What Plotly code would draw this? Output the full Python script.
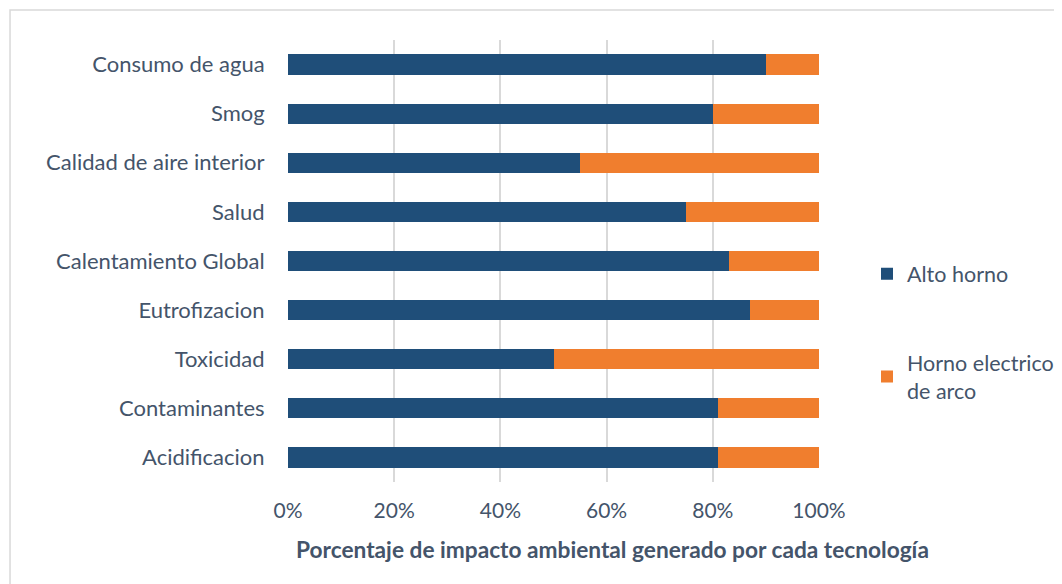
import plotly.graph_objects as go

categories = ["Consumo de agua", "Smog", "Calidad de aire interior", "Salud",
              "Calentamiento Global", "Eutrofizacion", "Toxicidad",
              "Contaminantes", "Acidificacion"]
alto_horno = [90, 80, 55, 75, 83, 87, 50, 81, 81]
horno_electrico = [10, 20, 45, 25, 17, 13, 50, 19, 19]
tick_vals = [0, 20, 40, 60, 80, 100]
tick_text = ["0%", "20%", "40%", "60%", "80%", "100%"]
x_title = "Porcentaje de impacto ambiental generado por cada tecnología"

txt = "#44546A"
font_family = "Lato, Open Sans, sans-serif"

fig = go.Figure()
fig.add_trace(go.Bar(y=categories, x=alto_horno, orientation="h",
                     name="Alto horno", legendgroup="a",
                     marker=dict(color="#1F4E79", line=dict(width=0))))
fig.add_trace(go.Bar(y=categories, x=horno_electrico, orientation="h",
                     name="Horno electrico<br>de arco", legendgroup="b",
                     marker=dict(color="#F07E2E", line=dict(width=0))))

fig.update_layout(
    width=1062, height=584,
    barmode="stack", bargap=0.59,
    paper_bgcolor="white", plot_bgcolor="white",
    margin=dict(l=280, r=251, t=32, b=110, autoexpand=False),
    font=dict(family=font_family, color=txt, size=21),
    legend=dict(x=1.0904, y=0.339, xanchor="left", yanchor="middle",
                traceorder="grouped", tracegroupgap=58,
                font=dict(size=21.5, color=txt), itemwidth=30),
    xaxis=dict(range=[0, 100], tickvals=tick_vals, ticktext=tick_text,
               showgrid=True, gridcolor="#D9D9D9", gridwidth=1.5,
               zeroline=False, showline=False,
               ticks="outside", ticklen=10, tickcolor="rgba(0,0,0,0)",
               tickfont=dict(size=21, color=txt)),
    yaxis=dict(autorange="reversed", showgrid=False, showline=False,
               ticks="outside", ticklen=18, tickcolor="rgba(0,0,0,0)",
               tickfont=dict(size=22, color=txt)),
    annotations=[dict(text="<b>" + x_title + "</b>", xref="paper", yref="paper",
                      x=0.612, y=-0.1516, xanchor="center", yanchor="middle",
                      showarrow=False, font=dict(size=22.7, color=txt))],
    shapes=[dict(type="rect", xref="paper", yref="paper",
                 x0=-0.5235, y0=-0.3, x1=1.5, y1=1.0679,
                 line=dict(color="#D9D9D9", width=1.5), fillcolor="rgba(0,0,0,0)",
                 layer="below")],
)

fig.write_html("out.html")
